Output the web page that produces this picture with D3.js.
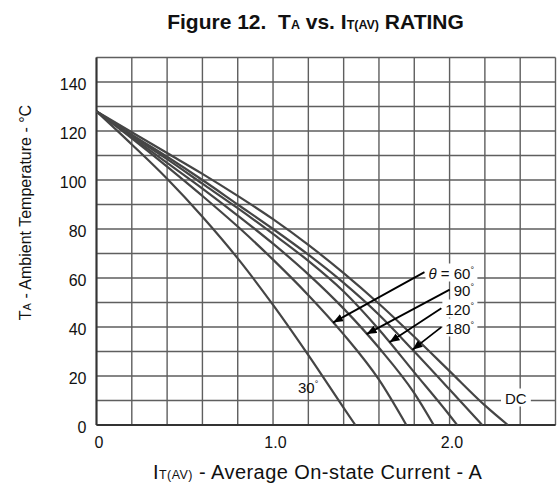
<!DOCTYPE html>
<html>
<head>
<meta charset="utf-8">
<script src="https://cdn.jsdelivr.net/npm/d3@7"></script>
<style>
  body { margin: 0; background: #fff; }
  text { font-family: "Liberation Sans", Arial, Helvetica, sans-serif; fill: #111; white-space: pre; }
</style>
</head>
<body>
<svg id="chart" width="560" height="497"></svg>
<script>
// Axis ticks
const currentTicks = [0, 1.0, 2.0];
const tempTicks = [0, 20, 40, 60, 80, 100, 120, 140];
const gridCurrents = d3.range(0, 2.61, 0.2);
const gridTemps = d3.range(0, 151, 10);

// Derating curves: average on-state current (A) vs ambient temperature (°C)
const current30 = [0, 0.2, 0.4, 0.6, 0.8, 1.0, 1.2, 1.4, 1.466];
const temp30    = [128, 114.5, 100.5, 85, 68, 49, 28.5, 7, 0];
const current60 = [0, 0.2, 0.4, 0.6, 0.8, 1.0, 1.2, 1.4, 1.6, 1.755];
const temp60    = [128, 117, 105.5, 93.5, 81, 67.5, 53, 37, 18.5, 0];
const current90 = [0, 0.2, 0.4, 0.6, 0.8, 1.0, 1.2, 1.4, 1.6, 1.8, 1.91];
const temp90    = [128, 117.5, 107, 96.5, 85.5, 74, 61.5, 47.5, 31.5, 13, 0];
const current120 = [0, 0.2, 0.4, 0.6, 0.8, 1.0, 1.2, 1.4, 1.6, 1.8, 2.0, 2.043];
const temp120    = [128, 118, 108.5, 98.5, 88.5, 78, 67, 54.5, 39, 21.5, 4, 0];
const current180 = [0, 0.2, 0.4, 0.6, 0.8, 1.0, 1.2, 1.4, 1.6, 1.8, 2.0, 2.185];
const temp180    = [128, 118.5, 109.5, 100, 90, 80, 69.5, 58, 45, 30, 14.5, 0];
const currentDC = [0, 0.2, 0.4, 0.6, 0.8, 1.0, 1.2, 1.4, 1.6, 1.8, 2.0, 2.2, 2.33];
const tempDC    = [128, 119.5, 111, 102.5, 93.5, 84, 73.5, 62, 49.5, 36, 22, 8, 0];

// Conduction-angle annotations: label text and the current where each arrow meets its curve
const arrowLabels = ["60", "90", "120", "180"];
const arrowCurrents = [1.34, 1.53, 1.66, 1.79];

const series = [
  { key: "30",  current: current30,  temp: temp30 },
  { key: "60",  current: current60,  temp: temp60 },
  { key: "90",  current: current90,  temp: temp90 },
  { key: "120", current: current120, temp: temp120 },
  { key: "180", current: current180, temp: temp180 },
  { key: "DC",  current: currentDC,  temp: tempDC }
];

const svg = d3.select("#chart");
const x = d3.scaleLinear().domain([0, 2.6]).range([96.5, 555.5]);
const y = d3.scaleLinear().domain([0, 150]).range([425, 57.5]);

// Slight softening for the printed grid and curves
svg.append("defs").append("filter").attr("id", "soft")
  .append("feGaussianBlur").attr("stdDeviation", 0.35);

// Grid
const grid = svg.append("g").attr("stroke", "#5e5e5e").attr("stroke-width", 1.4)
  .attr("filter", "url(#soft)");
grid.selectAll("line.v").data(gridCurrents).join("line").attr("class", "v")
  .attr("x1", d => x(d)).attr("x2", d => x(d))
  .attr("y1", y(0)).attr("y2", y(150));
grid.selectAll("line.h").data(gridTemps).join("line").attr("class", "h")
  .attr("x1", x(0)).attr("x2", x(2.6))
  .attr("y1", d => y(d)).attr("y2", d => y(d));

// Axes frame (left and bottom drawn heavier)
svg.append("line").attr("x1", x(0)).attr("x2", x(0)).attr("y1", y(0)).attr("y2", y(150))
  .attr("stroke", "#333").attr("stroke-width", 2);
svg.append("line").attr("x1", x(0)).attr("x2", x(2.6)).attr("y1", y(0)).attr("y2", y(0))
  .attr("stroke", "#333").attr("stroke-width", 2);

// Curves
const line = d3.line().x(d => x(d[0])).y(d => y(d[1])).curve(d3.curveMonotoneX);
svg.append("g").attr("filter", "url(#soft)").selectAll("path").data(series).join("path")
  .attr("d", s => line(s.current.map((c, i) => [c, s.temp[i]])))
  .attr("fill", "none").attr("stroke", "#454545").attr("stroke-width", 2.2);

// Tick labels
const yAxis = svg.append("g").attr("transform", `translate(${x(0)},0)`)
  .call(d3.axisLeft(y).tickValues(tempTicks).tickSize(0).tickPadding(10).tickFormat(d3.format("d")));
yAxis.select(".domain").remove();
yAxis.selectAll("text").attr("font-size", 16).attr("dy", "0.49em")
  .attr("font-family", null).style("fill", "#111");

const xAxis = svg.append("g").attr("transform", `translate(0,${y(0)})`)
  .call(d3.axisBottom(x).tickValues(currentTicks).tickSize(0).tickPadding(12)
    .tickFormat(d => d === 0 ? "0" : d3.format(".1f")(d)));
xAxis.select(".domain").remove();
xAxis.selectAll("text").attr("font-size", 16).attr("dx", "0.12em")
  .attr("font-family", null).style("fill", "#111");

// Title
const title = svg.append("text").attr("x", 315.5).attr("y", 28.5)
  .attr("text-anchor", "middle").attr("font-size", 21).attr("font-weight", "bold");
title.append("tspan").text("Figure 12.  T");
title.append("tspan").attr("font-size", 12.5).text("A");
title.append("tspan").text(" vs. I");
title.append("tspan").attr("font-size", 12.5).text("T(AV)");
title.append("tspan").text(" RATING");

// Axis titles
const xTitle = svg.append("text").attr("x", 153).attr("y", 479).attr("font-size", 20)
  .attr("letter-spacing", 0.45);
xTitle.append("tspan").text("I");
xTitle.append("tspan").attr("font-size", 12.5).text("T(AV)");
xTitle.append("tspan").text(" - Average On-state Current - A");

const yTitle = svg.append("text").attr("transform", "translate(31,212.5) rotate(-90)")
  .attr("text-anchor", "middle").attr("font-size", 16);
yTitle.append("tspan").text("T");
yTitle.append("tspan").attr("font-size", 11).text("A");
yTitle.append("tspan").text(" - Ambient Temperature - °C");

// Curve labels with white backing
const labelLayer = svg.append("g");
function degLabel(g, xPos, yPos, anchor, parts) {
  const t = g.append("text").attr("x", xPos).attr("y", yPos)
    .attr("text-anchor", anchor).attr("font-size", 15);
  parts.forEach(p => {
    const s = t.append("tspan").text(p.text);
    if (p.italic) s.attr("font-style", "italic");
    if (p.deg) s.attr("font-size", 9).attr("dy", -6);
  });
  return t;
}
function backWithWhite(t, pad) {
  const b = t.node().getBBox();
  labelLayer.insert("rect", "text")
    .attr("x", b.x - pad).attr("y", b.y - 1).attr("width", b.width + 2 * pad).attr("height", b.height + 1)
    .attr("fill", "#fff");
}

const annRight = 474;
const annBaselines = [278.5, 296, 314.5, 333.5];
const annTexts = arrowLabels.map((lab, i) => {
  const parts = i === 0
    ? [{ text: "θ", italic: true }, { text: " = " + lab }, { text: "°", deg: true }]
    : [{ text: lab }, { text: "°", deg: true }];
  return degLabel(labelLayer, annRight, annBaselines[i], "end", parts);
});
annTexts.forEach(t => backWithWhite(t, 3));

const label30 = degLabel(labelLayer, 298, 393, "start", [{ text: "30" }, { text: "°", deg: true }]);
const labelDC = degLabel(labelLayer, 505, 403.5, "start", [{ text: "DC" }]);
backWithWhite(labelDC, 4);

// Arrows from labels to their curves
svg.select("defs").append("marker")
  .attr("id", "head").attr("viewBox", "0 0 10 8").attr("refX", 10).attr("refY", 4)
  .attr("markerWidth", 10).attr("markerHeight", 8).attr("markerUnits", "userSpaceOnUse")
  .attr("orient", "auto")
  .append("path").attr("d", "M0,0 L10,4 L0,8 Z").attr("fill", "#000");

function tempAt(s, c) {
  const i = d3.bisectLeft(s.current, c);
  const c0 = s.current[i - 1], c1 = s.current[i];
  const t0 = s.temp[i - 1], t1 = s.temp[i];
  return t0 + (t1 - t0) * (c - c0) / (c1 - c0);
}
arrowLabels.forEach((lab, i) => {
  const s = series.find(d => d.key === lab);
  const b = annTexts[i].node().getBBox();
  const tipC = arrowCurrents[i];
  svg.append("line")
    .attr("x1", b.x - 4).attr("y1", b.y + b.height * 0.45)
    .attr("x2", x(tipC)).attr("y2", y(tempAt(s, tipC)))
    .attr("stroke", "#000").attr("stroke-width", 1.8)
    .attr("marker-end", "url(#head)");
});
</script>
</body>
</html>
